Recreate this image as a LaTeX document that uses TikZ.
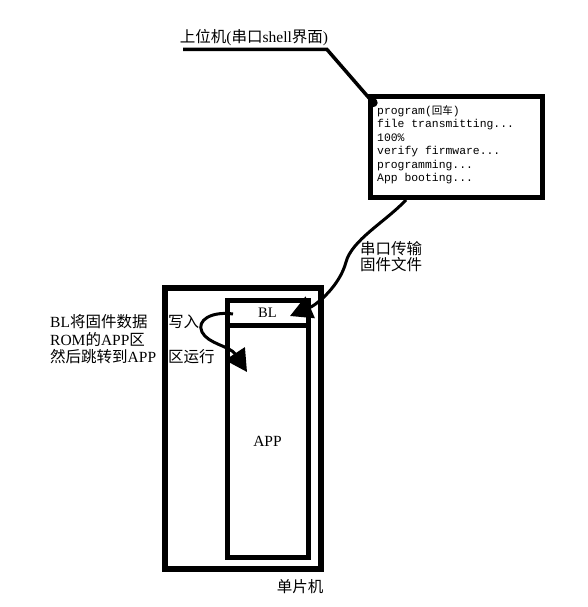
\documentclass[tikz,border=0pt]{standalone}
\usepackage{fontspec}
\setmainfont{Liberation Serif}
\setmonofont{Liberation Mono}
\newfontfamily\cjkfont{Noto Sans CJK SC}
\newcommand\cjktext[1]{{\cjkfont #1}}
\usetikzlibrary{arrows.meta,calc}
\begin{document}
\begin{tikzpicture}[x=1pt,y=-1pt,
  lbl/.style={font=\fontsize{15.5}{17.5}\selectfont, inner sep=0},
  cjklbl/.style={font=\fontsize{15.5}{17.5}\cjkfont, inner sep=0},
  mono/.style={font=\fontsize{11.4}{13.5}\ttfamily, anchor=base west, inner sep=0},
  frame/.style={draw, line width=#1, inner sep=0},
  conn/.style={line width=3, -{Triangle[length=22pt,width=23pt]}}]
\useasboundingbox (0,0) rectangle (588,607);

% host title
\node[lbl] (host) at (254,38) {\cjktext{上位机}(\cjktext{串口}shell\cjktext{界面})};
\coordinate (ul) at (183,49.5);
\coordinate (ur) at (327,49.5);

% terminal box
\node[frame=5, minimum width=172pt, minimum height=101pt] (term) at (456.5,147) {};
\node[mono] (t1) at (377,114) {program(\cjktext{\fontsize{10.5}{13.5}\selectfont 回车})};
\node[mono] (t2) at (377,127.5) {file transmitting...};
\node[mono] (t3) at (377,141) {100\%};
\node[mono] (t4) at (377,154.5) {verify firmware...};
\node[mono] (t5) at (377,168) {programming...};
\node[mono] (t6) at (377,181.5) {App booting...};
\coordinate (tdot) at (376,106);
\draw[line width=3.5, -{Circle[length=9pt]}] (ul) -- (ur) -- (tdot);

% MCU
\node[frame=6, minimum width=156pt, minimum height=281pt] (mcu) at (243,428.5) {};
\node[frame=5, minimum width=81pt, minimum height=232pt, lbl] (app) at (267.5,441) {APP};
\node[frame=5, minimum width=81pt, minimum height=25pt, font=\fontsize{14.5}{16}\selectfont] (bl) at (267.5,312.5) {BL};
\node[cjklbl] (mculbl) at (300,587) {单片机};

% serial transfer
\node[cjklbl, anchor=west] (s1) at (360,249) {串口传输};
\node[cjklbl, anchor=west] (s2) at (360,265) {固件文件};
\coordinate (tout) at ($(term.south west)+(38,0)$);
\coordinate (blin) at (290,316);
\draw[conn] (tout) .. controls (385,222) and (352,240) .. (346,262)
  .. controls (340,285) and (318,304) .. (blin);

% BL notes
\node[lbl, anchor=west] (n1) at (50,322) {BL\cjktext{将固件数据}};
\node[lbl, anchor=west] (n2) at (50,339) {ROM\cjktext{的}APP\cjktext{区}};
\node[lbl, anchor=west] (n3) at (50,357) {\cjktext{然后跳转到}APP};
\node[cjklbl, anchor=west] (w1) at (168,322) {写入};
\node[cjklbl, anchor=west] (w2) at (168,357) {区运行};
\coordinate (wstart) at (233,314);
\coordinate (wend) at (247,372);
\draw[conn] (wstart) .. controls (212,311) and (196,320) .. (202,332)
  .. controls (208,344) and (230,346) .. (wend);
\end{tikzpicture}
\end{document}
